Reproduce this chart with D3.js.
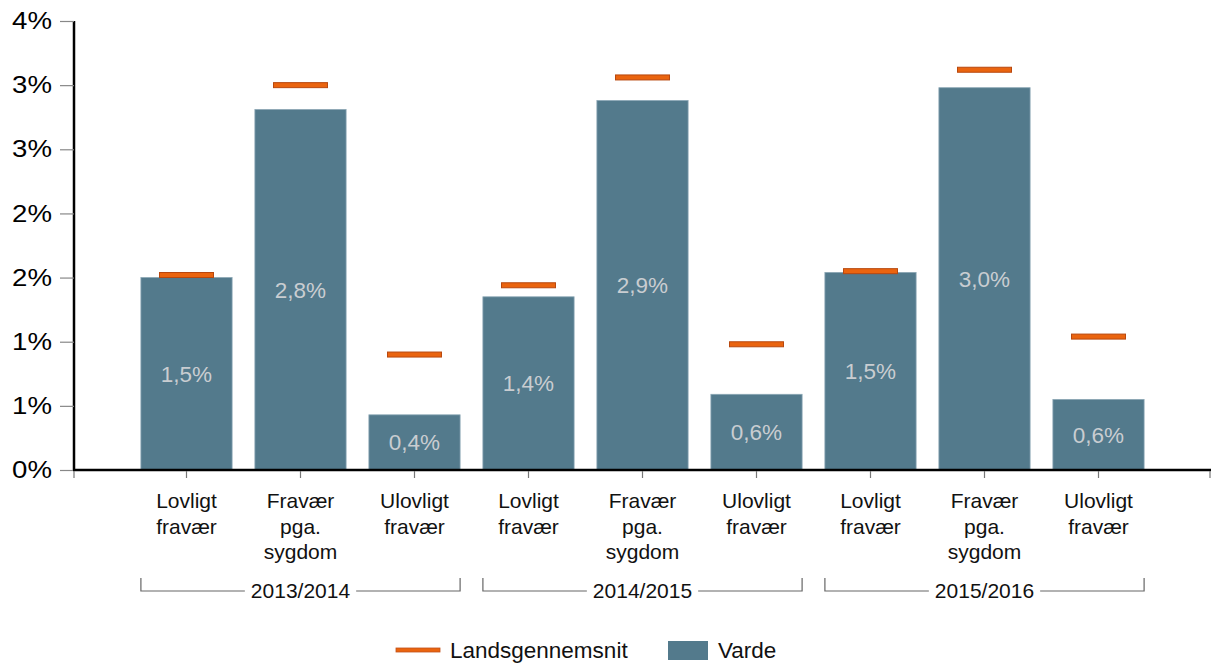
<!DOCTYPE html>
<html><head><meta charset="utf-8">
<script src="https://cdn.jsdelivr.net/npm/d3@7"></script>
<style>body{margin:0;background:#fff;} svg{display:block;font-family:"Liberation Sans",Arial,sans-serif;}</style>
</head><body>
<svg id="c" width="1211" height="666"></svg>
<script>
const groups = ["2013/2014","2014/2015","2015/2016"];
const categories = ["Lovligt fravær","Fravær pga. sygdom","Ulovligt fravær"];
const categoryLines = [["Lovligt","fravær"],["Fravær","pga.","sygdom"],["Ulovligt","fravær"]];
const vardeValues = [1.50, 2.81, 0.43, 1.35, 2.88, 0.59, 1.54, 2.98, 0.55];
const vardeLabels = ["1,5%","2,8%","0,4%","1,4%","2,9%","0,6%","1,5%","3,0%","0,6%"];
const landsValues = [1.52, 3.00, 0.90, 1.44, 3.06, 0.98, 1.55, 3.12, 1.04];
const yTicks = [0, 0.5, 1, 1.5, 2, 2.5, 3, 3.5];
const yTickLabels = ["0%","1%","1%","2%","2%","3%","3%","4%"];
const seriesNames = ["Landsgennemsnit","Varde"];

const svg = d3.select("#c");
const keys = d3.range(groups.length * categories.length);
const x = d3.scaleBand().domain(keys).range([129.5, 1155.5]).paddingInner(0.2).paddingOuter(0.1);
const y = d3.scaleLinear().domain([0, 3.5]).range([470, 21]);
const barColor = "#537a8c";

// y axis
const yAxis = svg.append("g").attr("transform","translate(74,0)")
  .call(d3.axisLeft(y).tickValues(yTicks).tickFormat((d,i)=>yTickLabels[i]).tickSize(14).tickPadding(8));
yAxis.select(".domain").attr("stroke","#000").attr("stroke-width",2.5).attr("d","M0,21V470");
yAxis.selectAll(".tick line").attr("stroke","#888").attr("stroke-width",1.2);
yAxis.selectAll(".tick text")
  .attr("x",0).attr("font-size",24).attr("fill","#000").attr("font-family","Liberation Sans, Arial, sans-serif")
  .attr("transform","translate(-22,0) scale(1.15,1)");

// bars
svg.append("g").selectAll("rect").data(keys).join("rect")
  .attr("x", d=>x(d)).attr("width", x.bandwidth())
  .attr("y", d=>y(vardeValues[d])).attr("height", d=>y(0)-y(vardeValues[d]))
  .attr("fill", barColor).attr("stroke","#8aa6b4").attr("stroke-width",0.8);

// bar labels
svg.append("g").selectAll("text").data(keys).join("text")
  .attr("x", d=>x(d)+x.bandwidth()/2)
  .attr("y", d=>(y(vardeValues[d])+y(0))/2)
  .attr("dy","0.35em").attr("text-anchor","middle")
  .attr("font-size",22.5).attr("fill","#c9cdd1").text(d=>vardeLabels[d]);

// x axis
const xa = svg.append("g");
xa.append("line").attr("x1",73).attr("x2",1211).attr("y1",y(0)).attr("y2",y(0)).attr("stroke","#000").attr("stroke-width",2.5);
const tickXs = [74].concat(keys.map(d=>x(d)+x.bandwidth()/2)).concat([1210]);
xa.selectAll("line.t").data(tickXs).join("line").attr("class","t")
  .attr("x1",d=>d).attr("x2",d=>d).attr("y1",y(0)+1).attr("y2",y(0)+8).attr("stroke","#777").attr("stroke-width",1.2);

// category labels
const catG = svg.append("g").selectAll("g").data(keys).join("g")
  .attr("transform", d=>`translate(${x(d)+x.bandwidth()/2},0)`);
catG.each(function(d){
  const lines = categoryLines[d % categories.length];
  const t = d3.select(this).append("text").attr("text-anchor","middle").attr("font-size",21).attr("fill","#111");
  lines.forEach((l,i)=>t.append("tspan").attr("x",0).attr("y",508+i*25.5).text(l));
});

// group brackets
groups.forEach((g,gi)=>{
  const k0 = gi*categories.length, k1 = k0+categories.length-1;
  const x0 = x(k0), x1 = x(k1)+x.bandwidth();
  const cx = (x0+x1)/2, yb = 591;
  const gg = svg.append("g");
  const t = gg.append("text").attr("x",cx).attr("y",yb).attr("dy","0.35em").attr("text-anchor","middle")
    .attr("font-size",21).attr("fill","#111").text(g);
  const w = t.node().getComputedTextLength();
  const pad = 6;
  gg.append("path").attr("fill","none").attr("stroke","#666").attr("stroke-width",1.2)
    .attr("d",`M${x0},${yb-13}V${yb}H${cx-w/2-pad}M${cx+w/2+pad},${yb}H${x1}V${yb-13}`);
});

// landsgennemsnit markers
const mw = 54;
svg.append("g").selectAll("rect").data(keys).join("rect")
  .attr("x", d=>x(d)+x.bandwidth()/2-mw/2).attr("width", mw)
  .attr("y", d=>y(landsValues[d])-2.5).attr("height",5)
  .attr("fill","#ea640f").attr("stroke","#b8480f").attr("stroke-width",1);

// legend
const lg = svg.append("g");
lg.append("rect").attr("x",396).attr("y",648).attr("width",44).attr("height",4).attr("fill","#ea640f").attr("stroke","#c0501a").attr("stroke-width",0.8);
lg.append("text").attr("x",450).attr("y",650).attr("dy","0.35em").attr("font-size",22.5).attr("fill","#111").text(seriesNames[0]);
lg.append("rect").attr("x",668).attr("y",641).attr("width",40).attr("height",19).attr("fill",barColor);
lg.append("text").attr("x",718).attr("y",650).attr("dy","0.35em").attr("font-size",22.5).attr("fill","#111").text(seriesNames[1]);
</script>
</body></html>
